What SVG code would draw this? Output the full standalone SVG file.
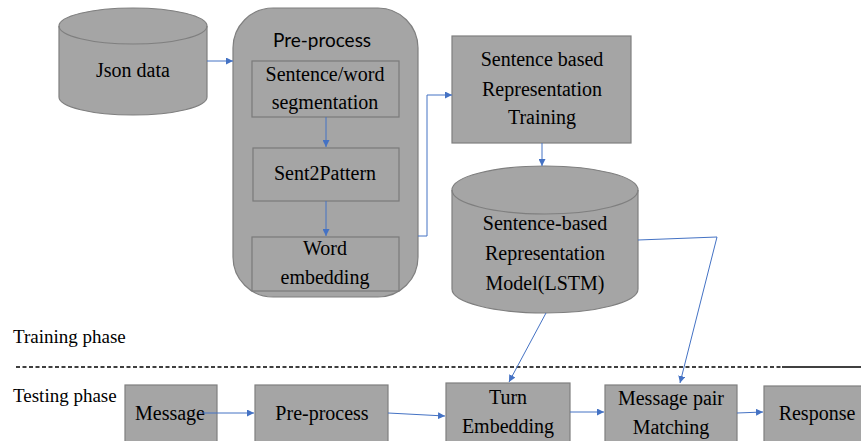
<svg xmlns="http://www.w3.org/2000/svg" width="861" height="441" viewBox="0 0 861 441">
  <style>
    .box { fill: #a5a5a5; stroke: #7f7f7f; stroke-width: 1.2; }
    .inner { fill: #a5a5a5; stroke: #7a7a7a; stroke-width: 1.2; }
    .t { font-family: "Liberation Serif", serif; font-size: 20px; fill: #000; text-anchor: middle; }
    .lbl { font-family: "Liberation Serif", serif; font-size: 19px; fill: #000; }
    .hdr { font-family: Lato, "Noto Sans", sans-serif; font-size: 19px; fill: #000; text-anchor: middle; }
    .conn { fill: none; stroke: #4472c4; stroke-width: 1; }
    .arr { marker-end: url(#ah); }
  </style>
  <defs>
    <marker id="ah" viewBox="0 0 10 10" refX="10" refY="5" markerWidth="7" markerHeight="7" markerUnits="userSpaceOnUse" orient="auto">
      <path d="M0,0 L10,5 L0,10 Z" fill="#4472c4"/>
    </marker>
  </defs>
  <rect width="861" height="441" fill="#fff"/>

  <!-- Training phase -->
  <g id="json-data">
    <path class="box" d="M59,26 L59,97 A74,18 0 0 0 207,97 L207,26 A74,18 0 0 0 59,26 Z"/>
    <path class="box" style="fill:none" d="M59,26 A74,18 0 0 0 207,26"/>
    <text class="t" x="133" y="77">Json data</text>
  </g>

  <g id="pre-process-group">
    <rect class="box" x="233" y="8" width="185" height="289" rx="40" ry="40"/>
    <text class="hdr" x="322" y="47">Pre-process</text>
  </g>
  <g id="segmentation">
    <rect class="inner" x="252" y="61" width="147" height="56"/>
    <text class="t" x="325" y="81">Sentence/word</text>
    <text class="t" x="325" y="109">segmentation</text>
  </g>
  <g id="sent2pattern">
    <rect class="inner" x="253" y="148" width="146" height="53"/>
    <text class="t" x="325" y="180">Sent2Pattern</text>
  </g>
  <g id="word-embedding">
    <rect class="inner" x="252" y="237" width="147" height="54"/>
    <text class="t" x="325" y="255">Word</text>
    <text class="t" x="325" y="284">embedding</text>
  </g>

  <g id="representation-training">
    <rect class="box" x="452" y="36" width="179" height="107"/>
    <text class="t" x="542" y="66">Sentence based</text>
    <text class="t" x="542" y="96">Representation</text>
    <text class="t" x="542" y="124">Training</text>
  </g>

  <g id="lstm-model">
    <path class="box" d="M452,190 L452,289 A93,24 0 0 0 638,289 L638,190 A93,24 0 0 0 452,190 Z"/>
    <path class="box" style="fill:none" d="M452,190 A93,24 0 0 0 638,190"/>
    <text class="t" x="545" y="230">Sentence-based</text>
    <text class="t" x="545" y="260">Representation</text>
    <text class="t" x="545" y="290">Model(LSTM)</text>
  </g>

  <!-- phase divider -->
  <g id="divider">
    <line x1="16" y1="367" x2="782" y2="367" stroke="#000" stroke-width="1.5" stroke-dasharray="4,2.5"/>
    <line x1="782" y1="367" x2="861" y2="367" stroke="#000" stroke-width="1.5"/>
    <text class="lbl" x="13" y="343">Training phase</text>
    <text class="lbl" x="13" y="402">Testing phase</text>
  </g>

  <!-- Testing phase -->
  <g id="message">
    <rect class="box" x="125" y="385" width="92" height="60"/>
    <text class="t" x="170" y="420">Message</text>
  </g>
  <g id="pre-process">
    <rect class="box" x="255" y="385" width="133" height="60"/>
    <text class="t" x="322" y="420">Pre-process</text>
  </g>
  <g id="turn-embedding">
    <rect class="box" x="446" y="383" width="124" height="62"/>
    <text class="t" x="508" y="404">Turn</text>
    <text class="t" x="508" y="433">Embedding</text>
  </g>
  <g id="message-pair-matching">
    <rect class="box" x="605" y="385" width="132" height="60"/>
    <text class="t" x="671" y="405">Message pair</text>
    <text class="t" x="671" y="434">Matching</text>
  </g>
  <g id="response">
    <rect class="box" x="764" y="386" width="100" height="60"/>
    <text class="t" x="817" y="420">Response</text>
  </g>

  <g id="connectors">
    <line class="conn arr" x1="207" y1="61" x2="233" y2="61"/>
    <line class="conn arr" x1="326" y1="117" x2="326" y2="147"/>
    <line class="conn arr" x1="326" y1="201" x2="326" y2="236"/>
    <polyline class="conn arr" points="418,236 427,236 427,95 452,95"/>
    <line class="conn arr" x1="542" y1="143" x2="542" y2="166"/>
    <polyline class="conn arr" points="638,240 717,237 680,383"/>
    <line class="conn arr" x1="546" y1="313" x2="509" y2="382"/>
    <line class="conn arr" x1="200" y1="413" x2="254" y2="413"/>
    <line class="conn arr" x1="388" y1="413" x2="445" y2="416"/>
    <line class="conn arr" x1="570" y1="412" x2="604" y2="412"/>
    <line class="conn arr" x1="737" y1="413" x2="763" y2="412"/>
  </g>
</svg>
